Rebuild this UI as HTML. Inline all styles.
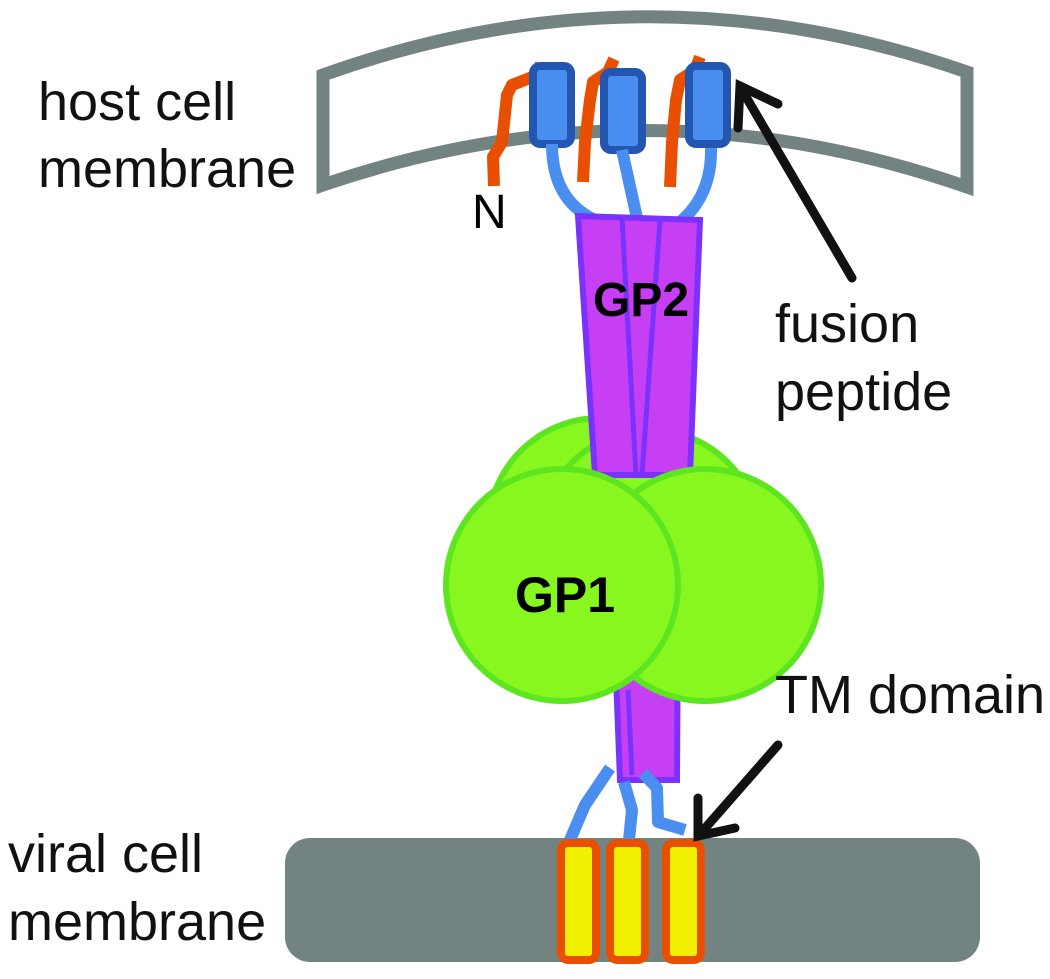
<!DOCTYPE html>
<html><head><style>body{margin:0;background:#fff}svg{display:block}text{font-family:"Liberation Sans",sans-serif}</style></head>
<body>
<svg width="1050" height="979" viewBox="0 0 1050 979">
<path d="M323,75 Q645,-40 967,72 L967,187 Q645,75 323,185 Z" fill="#fff" stroke="#738382" stroke-width="13"/>
<g fill="none" stroke="#e85000" stroke-width="12" stroke-linejoin="round">
<polyline points="541,64 535,76 512,85 507,95 502,142 493,157 494,186"/>
<polyline points="614,59 608,72 593,82 590,100 585,142 583,182"/>
<polyline points="700,57 695,70 680,80 676,100 672,142 670,187"/>
</g>
<g fill="#4a8ff0" stroke="#2356b0" stroke-width="8">
<rect x="533" y="66" width="38" height="78" rx="7"/>
<rect x="604" y="72" width="38" height="78" rx="7"/>
<rect x="689" y="66" width="38" height="78" rx="7"/>
</g>
<g fill="none" stroke="#4a8ff0" stroke-width="12">
<path d="M552,144 Q552,200 595,220"/>
<path d="M622,150 L637,218"/>
<path d="M711,148 Q712,195 680,222"/>
</g>
<text x="472" y="228" font-size="48">N</text>
<!-- lower stalk -->
<path d="M613,600 L678,600 L677,780 L620,780 Z" fill="#c63ff5" stroke="#7a33ff" stroke-width="6"/>
<line x1="628" y1="690" x2="632" y2="775" stroke="#7a33ff" stroke-width="5"/>
<g fill="#88f720" stroke="#5de520" stroke-width="6">
<circle cx="600" cy="530" r="112"/>
<circle cx="650" cy="540" r="110"/>
</g>
<!-- GP2 -->
<path d="M578,216 L700,220 L690,475 L595,475 Z" fill="#c63ff5" stroke="#7a33ff" stroke-width="6"/>
<line x1="622" y1="218" x2="636" y2="475" stroke="#7a33ff" stroke-width="5"/>
<line x1="660" y1="220" x2="642" y2="475" stroke="#7a33ff" stroke-width="5"/>
<g fill="#88f720" stroke="#5de520" stroke-width="6">
<circle cx="705" cy="585" r="116"/>
<circle cx="562" cy="585" r="116"/>
</g>
<text x="515" y="612" font-size="50" font-weight="bold">GP1</text>
<text x="593" y="316" font-size="48" font-weight="bold">GP2</text>
<rect x="285" y="838" width="695" height="124" rx="25" fill="#738382"/>
<g fill="none" stroke="#4a8ff0" stroke-width="12" stroke-linejoin="round">
<polyline points="610,768 585,805 570,840"/>
<polyline points="624,782 632,810 629,840"/>
<polyline points="643,773 657,788 658,822 685,830"/>
</g>
<g fill="#f0f000" stroke="#e85000" stroke-width="8">
<rect x="561" y="843" width="35" height="117" rx="7"/>
<rect x="610" y="843" width="35" height="117" rx="7"/>
<rect x="666" y="843" width="35" height="117" rx="7"/>
</g>
<g stroke="#111" stroke-width="9" fill="none" stroke-linecap="round">
<line x1="852" y1="278" x2="742" y2="90"/>
<polyline points="738,128 740,86 778,104"/>
<line x1="778" y1="745" x2="700" y2="834"/>
<polyline points="698,798 698,836 735,828"/>
</g>
<g font-size="54" fill="#111">
<text x="38" y="120">host cell</text>
<text x="38" y="187">membrane</text>
<text x="775" y="342">fusion</text>
<text x="775" y="410">peptide</text>
<text x="775" y="713">TM domain</text>
<text x="8" y="872">viral cell</text>
<text x="8" y="940">membrane</text>
</g>
</svg>
</body></html>
